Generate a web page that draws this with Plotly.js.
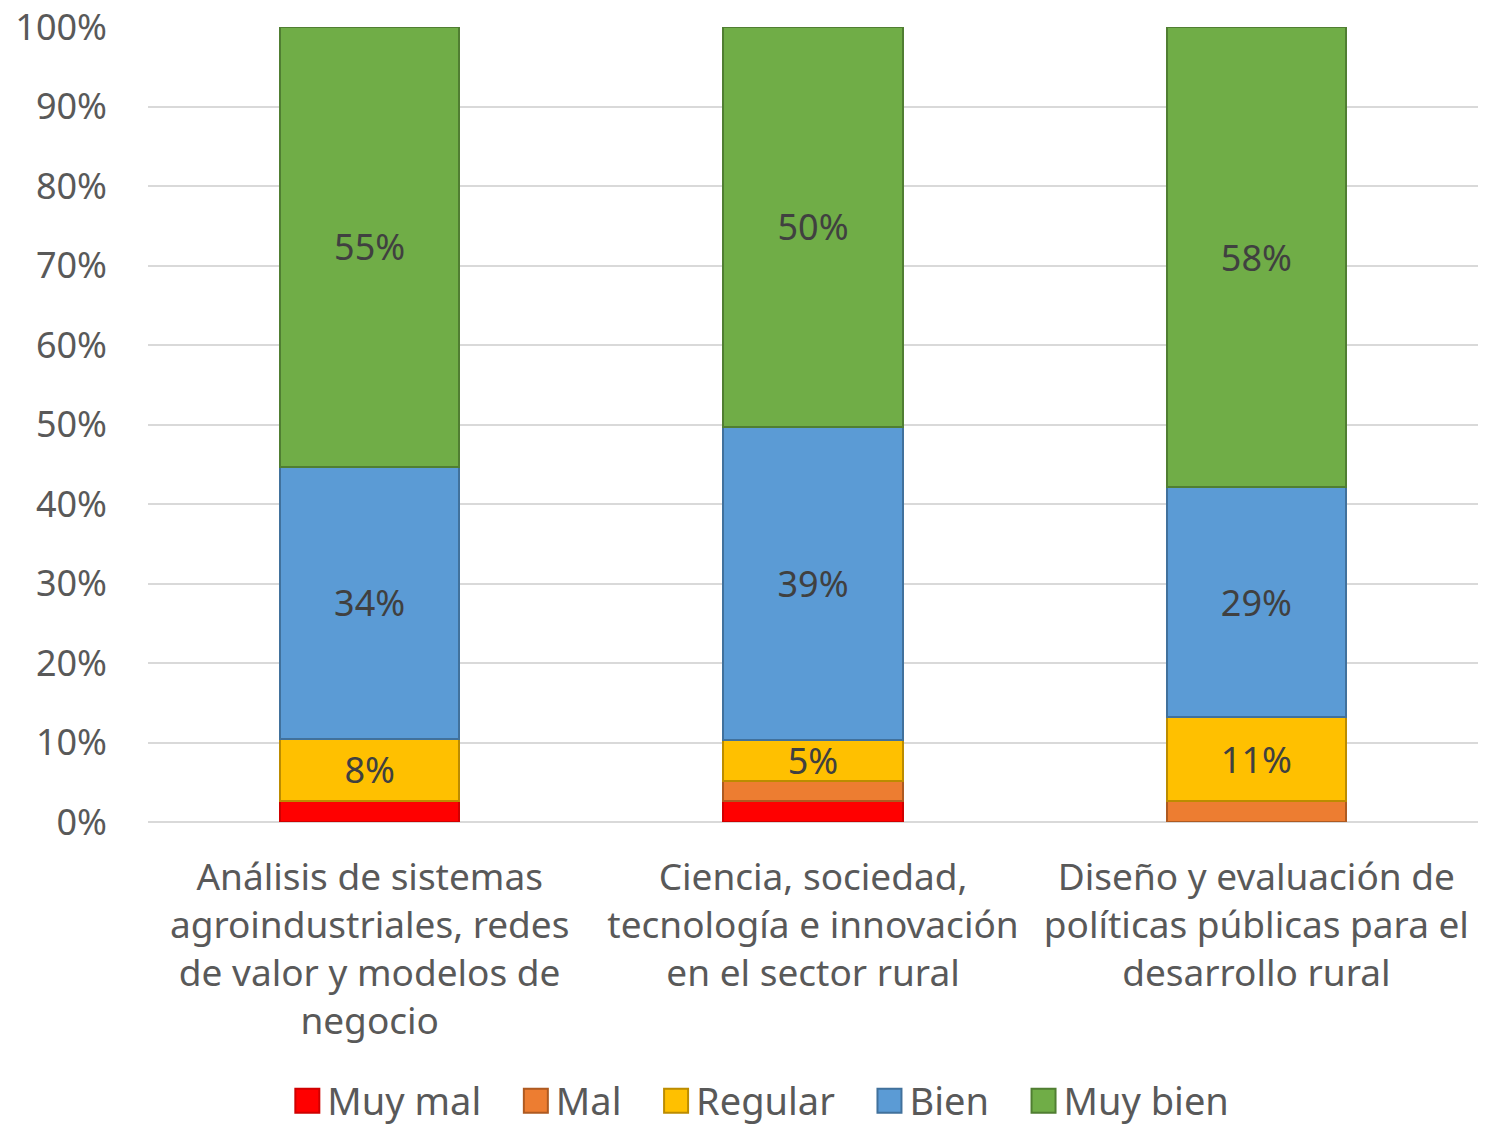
<!DOCTYPE html>
<html>
<head>
<meta charset="utf-8">
<script src="https://cdn.plot.ly/plotly-3.0.1.min.js"></script>
<style>html,body{margin:0;padding:0;background:#fff;}</style>
</head>
<body>
<div id="chart" style="width:1486px;height:1128px;"></div>
<script>
const categories = [
  "Análisis de sistemas<br>agroindustriales, redes<br>de valor y modelos de<br>negocio",
  "Ciencia, sociedad,<br>tecnología e innovación<br>en el sector rural",
  "Diseño y evaluación de<br>políticas públicas para el<br>desarrollo rural"
];
const seriesNames = ["Muy mal", "Mal", "Regular", "Bien", "Muy bien"];
const muyMal  = [2.6, 2.6, 0];
const mal     = [0, 2.6, 2.6];
const regular = [7.9, 5.1, 10.6];
const bien    = [34.2, 39.4, 28.9];
const muyBien = [55.3, 50.3, 57.9];
const yTickVals = [0, 10, 20, 30, 40, 50, 60, 70, 80, 90, 100];
const yTickText = ["0%", "10%", "20%", "30%", "40%", "50%", "60%", "70%", "80%", "90%", "100%"];
const fillColors = ["#FF0000", "#ED7D31", "#FFC000", "#5B9BD5", "#70AD47"];
const lineColors = ["#D00000", "#AE5A21", "#BC8C00", "#41719C", "#507E32"];

const FONT = "Noto Sans, Open Sans, sans-serif";
const allSeries = [muyMal, mal, regular, bien, muyBien];
const PAD = "\u00a0\u00a0\u00a0";
const traces = allSeries.map((vals, i) => ({
  type: "bar",
  name: seriesNames[i] + (i < seriesNames.length - 1 ? PAD : ""),
  x: categories,
  y: vals,
  text: vals.map(v => v >= 4 ? Math.round(v) + "%" : ""),
  textposition: "inside",
  insidetextanchor: "middle",
  textangle: 0,
  constraintext: "none",
  textfont: {family: FONT, size: 36, color: "#404040"},
  hoverinfo: "none",
  marker: {color: fillColors[i], line: {color: lineColors[i], width: 2}}
}));

const layout = {
  width: 1486, height: 1128,
  margin: {l: 148, r: 8, t: 27, b: 306},
  barmode: "stack",
  bargap: 0.596,
  paper_bgcolor: "#fff", plot_bgcolor: "#fff",
  font: {family: FONT, size: 36, color: "#595959"},
  xaxis: {
    tickfont: {family: FONT, size: 37, color: "#595959"},
    showgrid: false, zeroline: false, showline: false, ticks: "",
    ticklabelstandoff: 30
  },
  yaxis: {
    range: [0, 100],
    tickvals: yTickVals,
    ticktext: yTickText,
    tickfont: {family: FONT, size: 36, color: "#595959"},
    gridcolor: "#D9D9D9", gridwidth: 2,
    zeroline: true, zerolinecolor: "#D9D9D9", zerolinewidth: 2,
    showline: false, ticks: "", ticklen: 0, ticklabelstandoff: 40
  },
  showlegend: true,
  legend: {
    orientation: "h",
    xref: "container", yref: "container",
    x: 0.512, xanchor: "center",
    y: 0.024, yanchor: "middle",
    font: {family: FONT, size: 38, color: "#595959"},
    itemwidth: 30,
    traceorder: "normal"
  }
};

Plotly.newPlot("chart", traces, layout, {displayModeBar: false, staticPlot: true}).then(gd => {
  gd.querySelectorAll(".legend .legendpoints path").forEach(p => {
    const t = p.getAttribute("transform") || "";
    p.setAttribute("transform", t + " scale(2)");
    p.style.strokeWidth = "1px";
  });
});
</script>
</body>
</html>
